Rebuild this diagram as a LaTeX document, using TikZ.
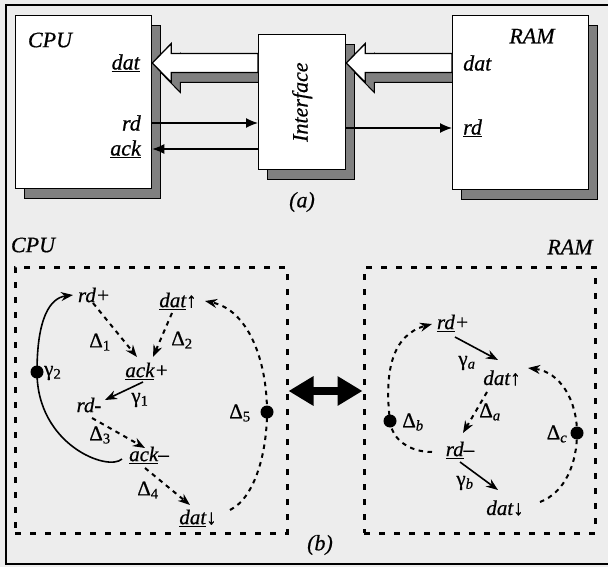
\documentclass[tikz,border=0pt]{standalone}
\usepackage{fontspec}
\setmainfont{Liberation Serif}[FakeBold=0.6]
\usetikzlibrary{arrows.meta,calc,shadows}
\pgfdeclarelayer{paper}
\pgfdeclarelayer{under}
\pgfsetlayers{paper,under,main}
\newcommand\fatpath[3]{($(#1)+#3$) -- ++(19,-19.5) -- ++(0,10) -- ($(#2)+#3+(0,-9.5)$) -- ++(0,19) -- ($(#1)+#3+(19,9.5)$) -- ++(0,10) -- cycle}
\tikzset{
  box/.style={draw=black, line width=1.3pt, fill=white, anchor=north west, inner sep=0pt,
    copy shadow={shadow xshift=9pt, shadow yshift=-10pt, fill=black!50, draw=black, line width=1pt}},
  albl/.style={font=\fontsize{22}{25}\selectfont\itshape, inner sep=1pt},
  nl/.style={font=\fontsize{21}{24}\selectfont\itshape, inner sep=1pt},
  gl/.style={font=\fontsize{21}{24}\selectfont\upshape, inner sep=1pt},
  fatshadow/.style={fill=black!50, draw=black, line width=1pt},
  fatbody/.style={fill=white, draw=black, line width=1.3pt, line join=miter},
  aarrow/.style={line width=1.3pt, -{Latex[length=12pt,width=10pt]}},
  dotbox/.style={draw=black, line width=3pt, dash pattern=on 6pt off 9pt, inner sep=0pt},
  dbl/.style={line width=8pt, {Triangle[length=25pt,width=28pt]}-{Triangle[length=25pt,width=28pt]}},
  sar/.style={line width=1.6pt, -{Stealth[length=12pt,width=9pt]}},
  dar/.style={line width=2pt, dash pattern=on 4.5pt off 4.5pt, -{Stealth[length=12pt,width=9pt]}},
  dotn/.style={circle, fill=black, minimum size=13pt, inner sep=0pt},
}
\begin{document}
\begin{tikzpicture}[x=1pt,y=-1pt]
\useasboundingbox (0,0) rectangle (608,567);
\begin{pgfonlayer}{paper}
  \fill[black!7] (0,0) rectangle (608,567);
  \draw[line width=1.6pt] (608,5) -- (6,5) -- (6,564) -- (608,564);
\end{pgfonlayer}

% ---------- (a) ----------
\node[box, minimum width=136pt, minimum height=173pt] (cpu) at (15,15) {};
\node[box, minimum width=87pt, minimum height=135pt] (ifc) at (258,34) {};
\node[box, minimum width=136pt, minimum height=174pt] (ram) at (452,15) {};

\node[albl] (cpul) at (50,40) {CPU};
\node[albl] (raml) at (532,36) {RAM};
\node[albl, anchor=east] (datl) at (141,63) {\underline{dat}};
\node[albl, anchor=east] (rdl) at (142,123) {rd};
\node[albl, anchor=east] (ackl) at (142,149) {\underline{ack}};
\node[albl, anchor=west] (datr) at (462,63) {dat};
\node[albl, anchor=west] (rdr) at (462,128) {\underline{rd}};
\node[albl, rotate=90] (ifl) at (ifc.center) {Interface};
\node[albl] (alab) at (302,202) {(a)};

\coordinate (t1) at (datl -| cpu.east);
\coordinate (c1) at (datl -| ifc.west);
\coordinate (t2) at (datl -| ifc.east);
\coordinate (c2) at (datl -| ram.west);
\begin{pgfonlayer}{under}
  \path[fatshadow] \fatpath{t1}{c1}{(9,10)};
  \path[fatshadow] \fatpath{t2}{c2}{(9,10)};
\end{pgfonlayer}
\path[fatbody] \fatpath{t1}{c1}{(0,0)};
\path[fatbody] \fatpath{t2}{c2}{(0,0)};

\draw[aarrow] (rdl -| cpu.east) -- (rdl -| ifc.west);
\draw[aarrow] (ackl -| ifc.west) -- (ackl -| cpu.east);
\draw[aarrow] (rdr -| ifc.east) -- (rdr -| ram.west);

% ---------- (b) ----------
\node[albl] (cpuL) at (33,245) {CPU};
\node[albl] (ramL) at (570,247) {RAM};
\node[albl] (blab) at (320,545) {(b)};

\node[dotbox, minimum width=272pt, minimum height=266pt] (cpub) at (151,400) {};
\node[dotbox, minimum width=231pt, minimum height=266pt] (ramb) at (479.5,400) {};
\draw[dbl] ([shift={(0,-9)}]cpub.east) -- ([shift={(0,-9)}]ramb.west);

% CPU side
\node[nl] (rdp) at (94,295) {rd+};
\node[nl] (datu) at (178,301) {\underline{dat}↑};
\node[nl] (ackp) at (147,371) {\underline{ack}+};
\node[nl] (rdm) at (89,405) {rd-};
\node[nl] (ackm) at (149,455) {\underline{ack}–};
\node[nl] (datd) at (198,518) {\underline{dat}↓};
\node[gl] (d1) at (100,342) {Δ\textsubscript{1}};
\node[gl] (d2) at (182,340) {Δ\textsubscript{2}};
\node[gl] (g1) at (140,400) {γ\textsubscript{1}};
\node[gl] (d3) at (100,435) {Δ\textsubscript{3}};
\node[gl] (d4) at (148,490) {Δ\textsubscript{4}};
\node[dotn] (g2dot) at (37,372) {};
\node[gl, anchor=west] (g2) at (43,373) {γ\textsubscript{2}};
\node[dotn] (d5dot) at (267,412) {};
\node[gl] (d5) at (240,413) {Δ\textsubscript{5}};

\draw[dar] ([shift={(-1,8)}]rdp.center) -- ([shift={(-10,-14)}]ackp.center);
\draw[dar] ([shift={(-6,12)}]datu.center) -- ([shift={(6,-14)}]ackp.center);
\draw[sar] ([shift={(-4,11)}]ackp.center) -- ([shift={(16,-5)}]rdm.center);
\draw[dar] ([shift={(3,13)}]rdm.center) -- ([shift={(-4,-7)}]ackm.center);
\draw[dar] ([shift={(-4,13)}]ackm.center) -- ([shift={(-8,-13)}]datd.center);
\draw[sar] ([shift={(-27,4)}]ackm.center) .. controls (108,472) and (37,445) .. (g2dot.center)
   .. controls (37,318) and (50,298) .. ([shift={(-21,0)}]rdp.center);
\draw[dar] ([shift={(32,-8)}]datd.center) .. controls (256,497) and (267,450) .. (d5dot.center)
   .. controls (267,360) and (248,310) .. ([shift={(27,0)}]datu.center);

% RAM side
\node[nl] (rdp2) at (453,323) {\underline{rd}+};
\node[nl] (datu2) at (502,378) {dat↑};
\node[nl] (rdm2) at (460,450) {\underline{rd}–};
\node[nl] (datd2) at (505,508) {dat↓};
\node[gl] (ga) at (467,363) {γ\textsubscript{\textit{a}}};
\node[gl] (da) at (490,412) {Δ\textsubscript{\textit{a}}};
\node[gl] (gb) at (465,483) {γ\textsubscript{\textit{b}}};
\node[dotn] (dbdot) at (390,421) {};
\node[gl] (db) at (413,422) {Δ\textsubscript{\textit{b}}};
\node[dotn] (dcdot) at (577,433) {};
\node[gl] (dc) at (557,434) {Δ\textsubscript{\textit{c}}};

\draw[sar] ([shift={(2,14)}]rdp2.center) -- ([shift={(-4,-18)}]datu2.center);
\draw[dar] ([shift={(-15,14)}]datu2.center) -- ([shift={(3,-17)}]rdm2.center);
\draw[sar] ([shift={(0,12)}]rdm2.center) -- ([shift={(-7,-18)}]datd2.center);
\draw[dar] ([shift={(-28,2)}]rdm2.center) .. controls (410,452) and (392,440) .. (dbdot.center)
   .. controls (384,372) and (392,335) .. ([shift={(-21,1)}]rdp2.center);
\draw[dar] ([shift={(35,-6)}]datd2.center) .. controls (566,492) and (577,462) .. (dcdot.center)
   .. controls (577,400) and (560,372) .. ([shift={(26,-10)}]datu2.center);
\end{tikzpicture}
\end{document}
